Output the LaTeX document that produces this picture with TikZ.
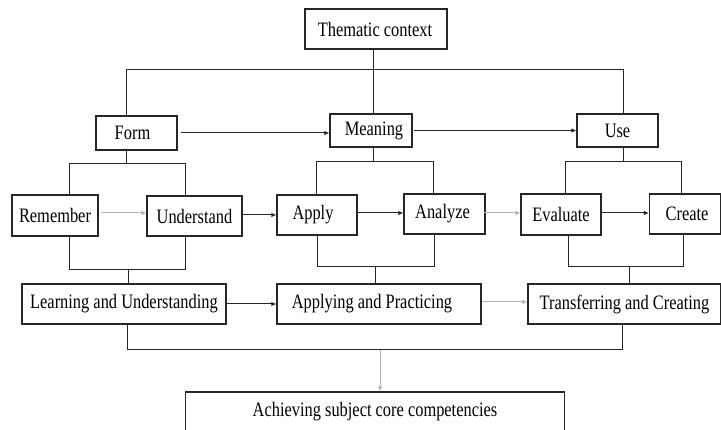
\documentclass[tikz,border=0pt]{standalone}
\usepackage{fontspec}
\setmainfont{Liberation Serif}[FakeStretch=0.8]
\usetikzlibrary{arrows.meta}
\begin{document}
\begin{tikzpicture}[x=1pt,y=-1pt,
  box/.style={draw=black!85,line width=1.2pt,fill=white,inner sep=0pt,font=\fontsize{20.5}{22}\selectfont},
  conn/.style={draw=black!85,line width=1pt},
  arr/.style={conn,-{Latex[length=5pt,width=4.5pt]}},
  garr/.style={draw=black!30,line width=1pt,-{Latex[length=5pt,width=4.5pt]}}]
\useasboundingbox (0,0) rectangle (721,430);
\fill[white] (0,0) rectangle (721,430);
% nodes
\node[box,minimum width=142pt,minimum height=40pt] (T) at (376,29) {\hspace*{-2pt}Thematic context};
\node[box,minimum width=81pt,minimum height=34pt] (F) at (136.5,133) {\hspace*{-8pt}Form};
\node[box,minimum width=82pt,minimum height=33pt] (M) at (371,130.5) {\hspace*{6pt}Meaning};
\node[box,minimum width=81pt,minimum height=33pt] (U) at (617.5,130.5) {Use};
\node[box,minimum width=86pt,minimum height=41pt] (Rem) at (55,215.5) {Remember};
\node[box,minimum width=95pt,minimum height=40pt] (Und) at (194.5,216) {Understand};
\node[box,minimum width=80pt,minimum height=40pt] (App) at (317,215) {\hspace*{-8pt}Apply};
\node[box,minimum width=81pt,minimum height=40pt] (Ana) at (444.5,214) {\hspace*{-4pt}Analyze};
\node[box,minimum width=80pt,minimum height=41pt] (Eva) at (561,214.5) {Evaluate};
\node[box,minimum width=71pt,minimum height=40pt] (Cre) at (685,214) {\hspace*{4pt}Create};
\node[box,minimum width=204pt,minimum height=40pt] (LU) at (124,304) {Learning and Understanding};
\node[box,minimum width=204pt,minimum height=40pt] (AP) at (379,304) {\hspace*{-14pt}Applying and Practicing};
\node[box,minimum width=193pt,minimum height=40pt] (TC) at (624.5,304) {Transferring and Creating};
\node[box,minimum width=379pt,minimum height=40pt] (ACH) at (375,412) {\raisebox{4pt}{Achieving subject core competencies}};
% coordinates
\coordinate (tx) at (373,70);
\coordinate (fx) at (126,70);
\coordinate (ux) at (623,70);
\coordinate (fb) at (126,164);
\coordinate (rl) at (69,164);
\coordinate (ur) at (185,164);
\coordinate (mb) at (373,162);
\coordinate (al) at (316,162);
\coordinate (ar) at (433,162);
\coordinate (ub) at (623,162);
\coordinate (el) at (565,162);
\coordinate (cr) at (681,162);
\coordinate (r3a) at (69,270);
\coordinate (r3b) at (185,270);
\coordinate (r3c) at (128,270);
\coordinate (m3a) at (317,267);
\coordinate (m3b) at (434,267);
\coordinate (m3c) at (375,267);
\coordinate (u3a) at (568,267);
\coordinate (u3b) at (683,267);
\coordinate (u3c) at (629,267);
\coordinate (bl) at (127,350);
\coordinate (br) at (622,350);
\coordinate (bm) at (380,350);
% top tree
\draw[conn] (T.south -| tx) -- (M.north -| tx);
\draw[conn] (F.north -| fx) |- (ux) -- (U.north -| ux);
\draw[arr,shorten <=3pt] (F.east) -- (M.west |- F.east);
\draw[arr,shorten <=1pt] (M.east) -- (U.west |- M.east);
% second level
\draw[conn] (F.south -| fb) -- (fb);
\draw[conn] (Rem.north -| rl) |- (ur) -- (Und.north -| ur);
\draw[conn] (M.south -| mb) -- (mb);
\draw[conn] (App.north -| al) |- (ar) -- (Ana.north -| ar);
\draw[conn] (U.south -| ub) -- (ub);
\draw[conn] (Eva.north -| el) |- (cr) -- (Cre.north -| cr);
% row arrows
\draw[garr,shorten <=2pt] (Rem.east |- 0,213) -- (Und.west |- 0,213);
\draw[arr] (Und.east |- 0,215) -- (App.west |- 0,215);
\draw[arr] (App.east |- 0,213) -- (Ana.west |- 0,213);
\draw[garr,shorten <=-2pt] (Ana.east |- 0,213) -- (Eva.west |- 0,213);
\draw[arr] (Eva.east |- 0,213) -- (Cre.west |- 0,213);
% third level
\draw[conn] (Rem.south -| r3a) |- (r3b) -- (Und.south -| r3b);
\draw[conn] (r3c) -- (LU.north -| r3c);
\draw[conn] (App.south -| m3a) |- (m3b) -- (Ana.south -| m3b);
\draw[conn] (m3c) -- (AP.north -| m3c);
\draw[conn] (Eva.south -| u3a) |- (u3b) -- (Cre.south -| u3b);
\draw[conn] (u3c) -- (TC.north -| u3c);
% bottom row arrows
\draw[arr] (LU.east) -- (AP.west);
\draw[garr] (AP.east |- 0,302) -- (TC.west |- 0,302);
% final
\draw[conn] (LU.south -| bl) |- (br) -- (TC.south -| br);
\draw[garr] (bm) -- (ACH.north -| bm);
\end{tikzpicture}
\end{document}
